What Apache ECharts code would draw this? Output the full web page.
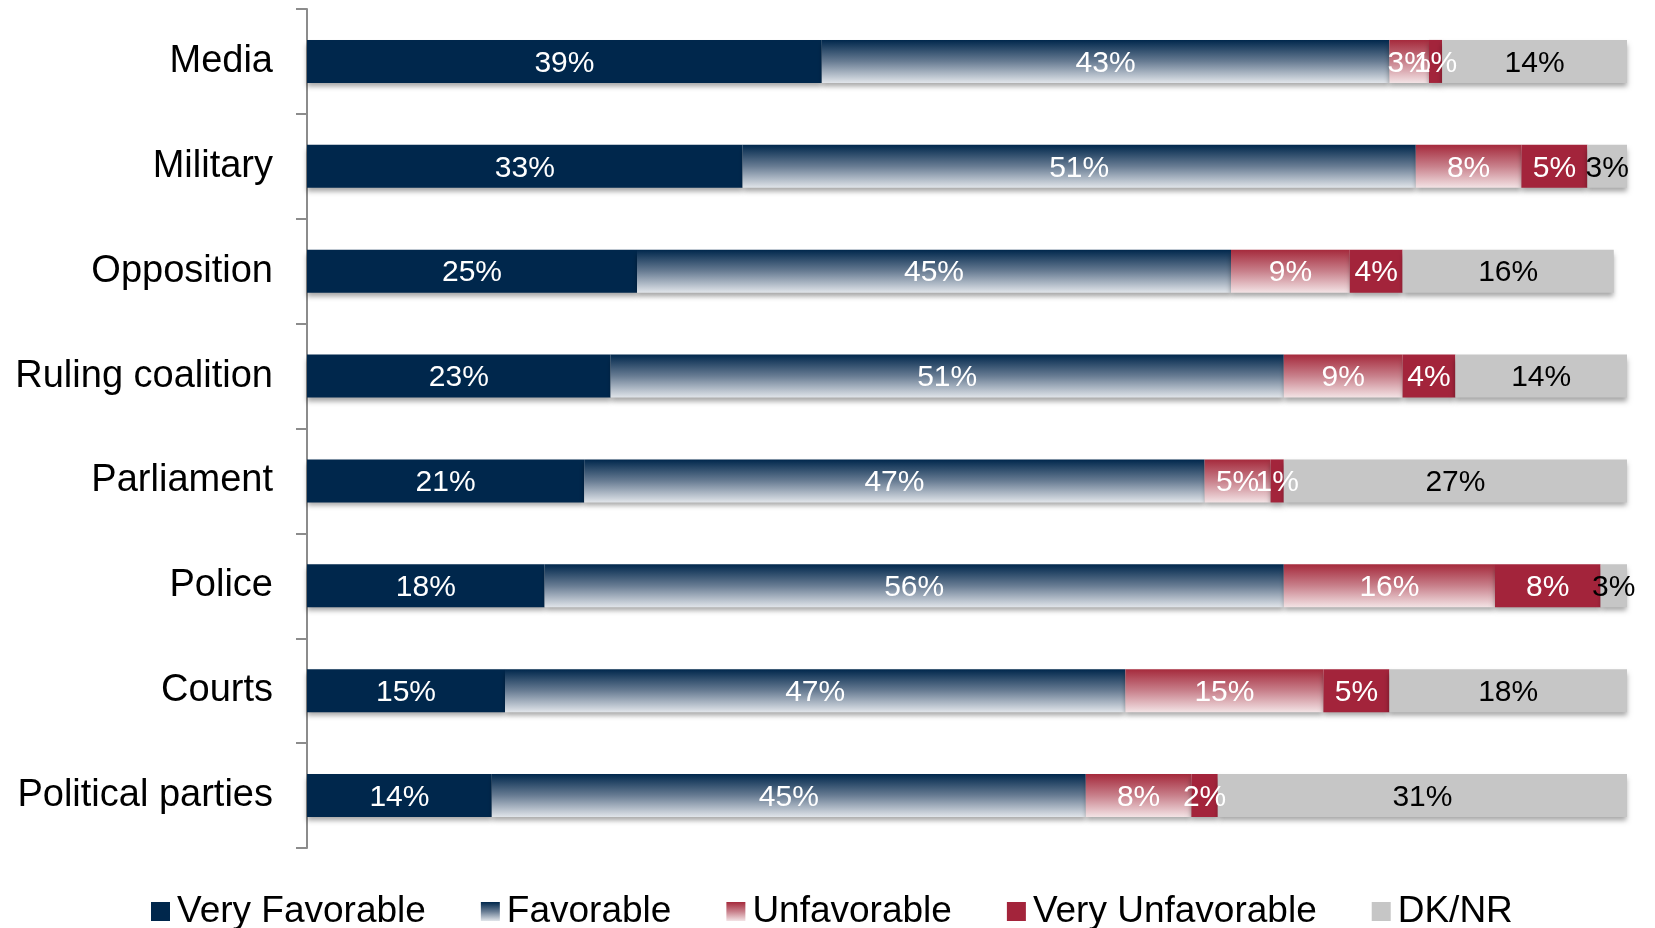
<!DOCTYPE html>
<html>
<head>
<meta charset="utf-8">
<script src="https://cdn.jsdelivr.net/npm/echarts@6/dist/echarts.min.js"></script>
<style>
html,body{margin:0;padding:0;background:#fff;}
#chart{width:1655px;height:928px;}
</style>
</head>
<body>
<div id="chart"></div>
<script>
const categories = ["Media", "Military", "Opposition", "Ruling coalition", "Parliament", "Police", "Courts", "Political parties"];
const seriesNames = ["Very Favorable", "Favorable", "Unfavorable", "Very Unfavorable", "DK/NR"];
const veryFavorable = [39, 33, 25, 23, 21, 18, 15, 14];
const favorable = [43, 51, 45, 51, 47, 56, 47, 45];
const unfavorable = [3, 8, 9, 9, 5, 16, 15, 8];
const veryUnfavorable = [1, 5, 4, 4, 1, 8, 5, 2];
const dkNr = [14, 3, 16, 14, 27, 3, 18, 31];

const seriesData = [veryFavorable, favorable, unfavorable, veryUnfavorable, dkNr];

function vgrad(top, mid, bottom) {
  return new echarts.graphic.LinearGradient(0, 0, 0, 1, [
    { offset: 0, color: top },
    { offset: 0.5, color: mid },
    { offset: 1, color: bottom }
  ]);
}
const colors = [
  '#00274c',
  vgrad('#00274c', '#687c93', '#e1e5ea'),
  vgrad('#a52a3c', '#c8808b', '#f3e3e5'),
  '#a3243b',
  '#c6c6c6'
];
const labelColors = ['#ffffff', '#ffffff', '#ffffff', '#ffffff', '#000000'];

const chart = echarts.init(document.getElementById('chart'), null, { renderer: 'canvas' });

const series = seriesNames.map((name, i) => ({
  name: name,
  type: 'bar',
  stack: 'total',
  barWidth: 43,
  data: seriesData[i],
  itemStyle: {
    color: colors[i],
    shadowColor: 'rgba(0,0,0,0.35)',
    shadowBlur: 5,
    shadowOffsetY: 4
  },
  label: {
    show: true,
    position: 'inside',
    offset: [0, 2],
    formatter: p => p.value + '%',
    color: labelColors[i],
    fontFamily: '"Liberation Sans", Arial, sans-serif',
    fontSize: 30
  },
  emphasis: { disabled: true }
}));

chart.setOption({
  animation: false,
  backgroundColor: '#ffffff',
  grid: { left: 307, right: 28, top: 9, bottom: 80 },
  xAxis: {
    type: 'value',
    min: 0,
    max: 100,
    show: false,
    splitLine: { show: false }
  },
  yAxis: {
    type: 'category',
    data: categories,
    inverse: true,
    axisLine: { show: true, lineStyle: { color: '#8c8c8c', width: 2 } },
    axisTick: { show: true, length: 11, lineStyle: { color: '#8c8c8c', width: 2 } },
    axisLabel: {
      margin: 34,
      color: '#000000',
      fontFamily: '"Liberation Sans", Arial, sans-serif',
      fontSize: 38
    }
  },
  legend: {
    data: seriesNames,
    left: 146,
    top: 888,
    itemWidth: 19,
    itemHeight: 19,
    itemGap: 55,
    icon: 'rect',
    textStyle: {
      color: '#000000',
      fontFamily: '"Liberation Sans", Arial, sans-serif',
      fontSize: 37,
      padding: [0, 0, 0, 2]
    }
  },
  series: series
});
</script>
</body>
</html>
